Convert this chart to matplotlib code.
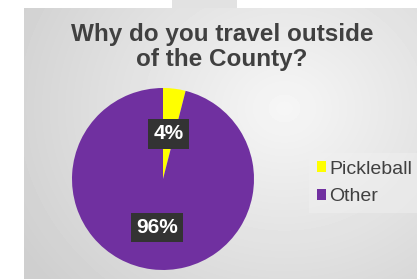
import matplotlib.pyplot as plt
import numpy as np

title = "Why do you travel outside\nof the County?"
labels = ["Pickleball", "Other"]
values = [4, 96]
colors = ["#FFFF00", "#7030A0"]

W, H = 417, 279
fig = plt.figure(figsize=(W / 100, H / 100), dpi=100)
fig.patch.set_facecolor("white")

# grey gradient panel behind the chart
bg = fig.add_axes([24 / W, 0, (W - 24) / W, (H - 8) / H])
yy, xx = np.mgrid[0:271, 0:393]
d = np.sqrt(((xx - 260) / 300.0) ** 2 + ((yy - 100) / 260.0) ** 2)
shade = np.clip(0.965 - 0.15 * d, 0.81, 1.0)
bg.imshow(shade, cmap="gray", vmin=0, vmax=1, aspect="auto")
bg.axis("off")

# small tab at the top
tab = fig.add_axes([172 / W, (H - 8) / H, 65 / W, 8 / H])
tab.axis("off")
tab.add_patch(plt.Rectangle((0, 0), 1, 1, color="#e2e2e2", transform=tab.transAxes))

fig.text(222 / W, 1 - 47 / H, title, ha="center", va="center", fontsize=17.5,
         fontweight="bold", color="#404040", family="Liberation Sans", linespacing=1.15)

ax = fig.add_axes([(163 - 91) / W, (H - 179 - 91) / H, 182 / W, 182 / H])
wedges, texts, autotexts = ax.pie(values, colors=colors, startangle=90, counterclock=False,
                                  autopct="%d%%", pctdistance=0.5,
                                  wedgeprops=dict(linewidth=0))
for t in autotexts:
    t.set_color("white")
    t.set_fontsize(15)
    t.set_fontweight("bold")
    t.set_family("Liberation Sans")
    t.set_bbox(dict(boxstyle="square,pad=0.25", facecolor="#333333", edgecolor="none"))
autotexts[1].set_y(autotexts[1].get_position()[1] - 0.04)
ax.set_xlim(-1, 1)
ax.set_ylim(-1, 1)
ax.set_aspect("equal")

leg = fig.legend(wedges, labels, loc="center left", bbox_to_anchor=(299 / W, 1 - 183 / H),
                 prop={"family": "Liberation Sans", "size": 14}, handlelength=0.5,
                 handleheight=0.5, handletextpad=0.15, labelspacing=0.55,
                 frameon=True, fancybox=False, borderpad=0.4)
leg.get_frame().set_facecolor("#f0f0f0")
leg.get_frame().set_edgecolor("none")
leg.get_frame().set_alpha(0.5)
for t in leg.get_texts():
    t.set_color("#404040")

fig.savefig("out.png", dpi=100)
